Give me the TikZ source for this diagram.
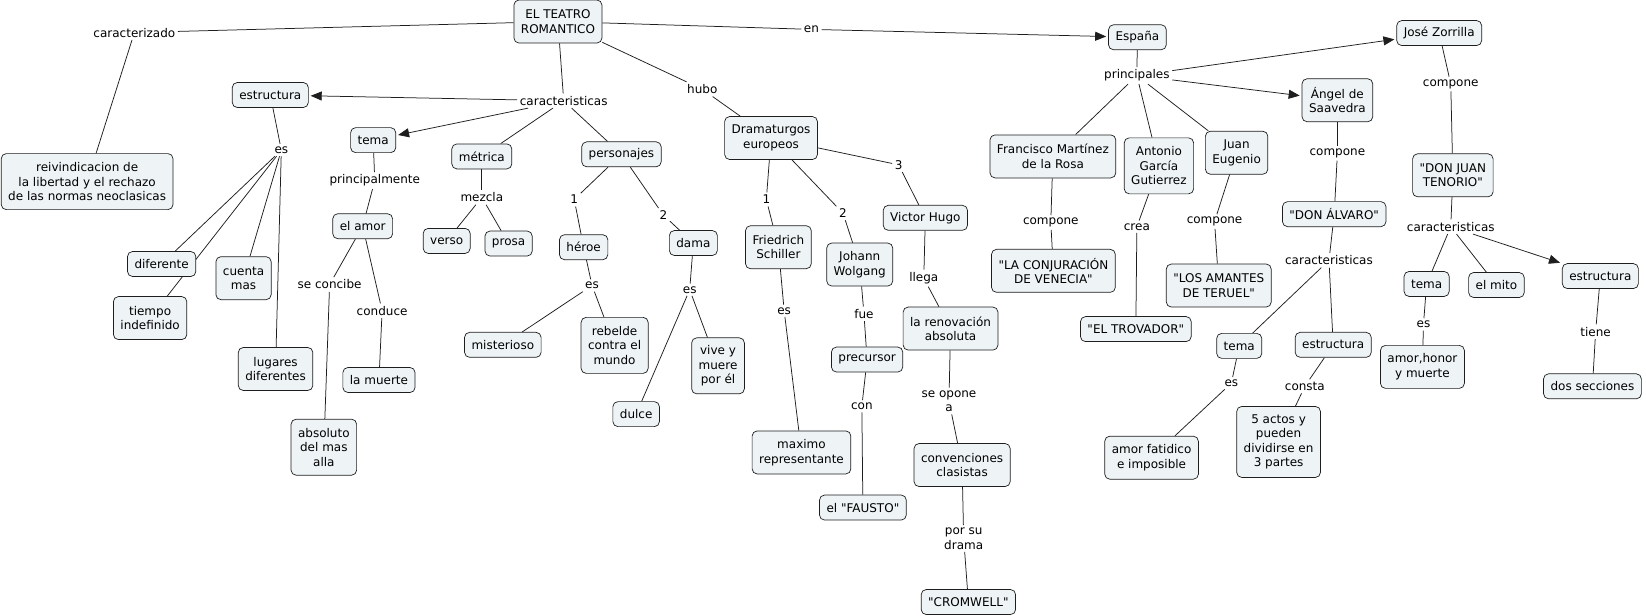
\documentclass[tikz,border=0pt]{standalone}
\usepackage{fontspec}
\newfontfamily\mapfont{DejaVu Sans}
\usetikzlibrary{arrows.meta,backgrounds}
\definecolor{cfill}{RGB}{238,243,245}
\definecolor{cline}{RGB}{30,30,30}
\begin{document}
\begin{tikzpicture}[x=1.0497pt,y=-1.0497pt,
  font=\mapfont\fontsize{12}{14.5}\selectfont,
  cbox/.style={draw=cline, fill=cfill, rounded corners=5pt, inner xsep=7pt, inner ysep=2pt, align=center, minimum height=25pt, line width=0.7pt},
  cboxb/.style={cbox, minimum height=43pt},
  cboxc/.style={cbox, minimum height=56pt},
  cboxd/.style={cbox, minimum height=71pt},
  lnk/.style={inner sep=2.5pt, align=center},
  conn/.style={draw=cline, line width=0.75pt},
  arr/.style={conn, shorten >=2pt, -{Triangle[length=11pt,width=9pt]}}]
\useasboundingbox (0,0) rectangle (1568,586.8);
% concepts
\node[cboxb] (teatro) at (531.5,20.5) {EL TEATRO\\ROMANTICO};
\node[cboxc] (reiv) at (83,173) {reivindicacion de\\la libertad y el rechazo\\de las normas neoclasicas};
\node[cbox] (estr1) at (257.5,90.5) {estructura};
\node[cbox] (tema1) at (355.5,133.5) {tema};
\node[cbox] (metrica) at (459,149) {métrica};
\node[cbox] (pers) at (592,147) {personajes};
\node[cbox] (dif) at (154,251.5) {diferente};
\node[cboxb] (tiempo) at (143,303) {tiempo\\indefinido};
\node[cboxb] (cuenta) at (232,265) {cuenta\\mas};
\node[cboxb] (lugares) at (262.5,351.5) {lugares\\diferentes};
\node[cbox] (amor) at (345.5,215.5) {el amor};
\node[cbox] (muerte) at (361,362) {la muerte};
\node[cboxc] (absol) at (308.5,426) {absoluto\\del mas\\alla};
\node[cbox] (verso) at (425.5,229.5) {verso};
\node[cbox] (prosa) at (484.5,232) {prosa};
\node[cbox] (heroe) at (556,235.5) {héroe};
\node[cbox] (dama) at (660.5,231.5) {dama};
\node[cbox] (mist) at (479,328.5) {misterioso};
\node[cboxc] (rebelde) at (585.5,329) {rebelde\\contra el\\mundo};
\node[cboxc] (vive) at (684,348.5) {vive y\\muere\\por él};
\node[cbox] (dulce) at (606,394.5) {dulce};
\node[cboxb] (drama) at (734.5,131.5) {Dramaturgos\\europeos};
\node[cboxb] (schiller) at (741.5,235.5) {Friedrich\\Schiller};
\node[cboxb] (johann) at (819,252) {Johann\\Wolgang};
\node[cbox] (victor) at (881.5,207.5) {Victor Hugo};
\node[cboxb] (maximo) at (763.5,431) {maximo\\representante};
\node[cbox] (precursor) at (826,342.5) {precursor};
\node[cbox] (fausto) at (822,483.5) {el "FAUSTO"};
\node[cboxb] (renov) at (905.5,313) {la renovación\\absoluta};
\node[cboxb] (conv) at (916.5,443) {convenciones\\clasistas};
\node[cbox] (cromwell) at (922.5,573.5) {"CROMWELL"};
\node[cbox] (espana) at (1083.5,35.5) {España};
\node[cboxb] (franc) at (1003,149) {Francisco Martínez\\de la Rosa};
\node[cboxc] (antonio) at (1104,158) {Antonio\\García\\Gutierrez};
\node[cboxb] (juan) at (1178,145.5) {Juan\\Eugenio};
\node[cboxb] (angel) at (1274,95.5) {Ángel de\\Saavedra};
\node[cbox] (jose) at (1371,31.5) {José Zorrilla};
\node[cboxb] (conj) at (1003.5,258) {"LA CONJURACIÓN\\DE VENECIA"};
\node[cbox] (trov) at (1082,313.5) {"EL TROVADOR"};
\node[cboxb] (amantes) at (1161,272) {"LOS AMANTES\\DE TERUEL"};
\node[cbox] (alvaro) at (1271,204) {"DON ÁLVARO"};
\node[cboxb] (donjuan) at (1384,167) {"DON JUAN\\TENORIO"};
\node[cbox] (tema2) at (1180.5,329.5) {tema};
\node[cbox] (estr2) at (1270,328.5) {estructura};
\node[cboxb] (amorfat) at (1097,436) {amor fatidico\\e imposible};
\node[cboxd] (cinco) at (1218,421) {5 actos y\\pueden\\dividirse en\\3 partes};
\node[cbox] (tema3) at (1359,270.5) {tema};
\node[cbox] (mito) at (1425.5,271.5) {el mito};
\node[cbox] (estr3) at (1524.5,263) {estructura};
\node[cboxb] (amorhonor) at (1355,349.5) {amor,honor\\y muerte};
\node[cbox] (dos) at (1517,368) {dos secciones};
% linking phrases
\node[lnk] (pcarz) at (128,31) {caracterizado};
\node[lnk] (pen) at (773,28) {en};
\node[lnk] (pcar1) at (537,96) {caracteristicas};
\node[lnk] (phubo) at (669,85) {hubo};
\node[lnk] (pes1) at (268,143) {es};
\node[lnk] (pprin) at (357,172) {principalmente};
\node[lnk] (pconc) at (314,271) {se concibe};
\node[lnk] (pcond) at (364,296) {conduce};
\node[lnk] (pmez) at (459,188) {mezcla};
\node[lnk] (pp1) at (547,190) {1};
\node[lnk] (pp2) at (632,205) {2};
\node[lnk] (pesh) at (564,272) {es};
\node[lnk] (pesd) at (657,276) {es};
\node[lnk] (pd1) at (730,190) {1};
\node[lnk] (pd2) at (803,203) {2};
\node[lnk] (pd3) at (856,157) {3};
\node[lnk] (pess) at (747,296) {es};
\node[lnk] (pfue) at (823,299) {fue};
\node[lnk] (pcon) at (821,387) {con};
\node[lnk] (pllega) at (880,265) {llega};
\node[lnk] (popone) at (904,382) {se opone\\a};
\node[lnk] (pporsu) at (918,513) {por su\\drama};
\node[lnk] (pprinc) at (1083,72) {principales};
\node[lnk] (pcomf) at (1001,212) {compone};
\node[lnk] (pcrea) at (1083,216) {crea};
\node[lnk] (pcomj) at (1157,211) {compone};
\node[lnk] (pcoma) at (1274,146) {compone};
\node[lnk] (pcaral) at (1266,248) {caracteristicas};
\node[lnk] (pest2) at (1173,365) {es};
\node[lnk] (pconsta) at (1243,368) {consta};
\node[lnk] (pcomz) at (1382,80) {compone};
\node[lnk] (pcardj) at (1382,216) {caracteristicas};
\node[lnk] (pest3) at (1356,309) {es};
\node[lnk] (ptiene) at (1520,316) {tiene};
% connectors
\begin{scope}[on background layer]
\fill[white] (0,0) rectangle (1568,586.8);
\draw[conn] (teatro) -- (pcarz);
\draw[conn] (pcarz) -- (reiv);
\draw[conn] (teatro) -- (pen);
\draw[arr] (pen) -- (espana);
\draw[conn] (teatro) -- (pcar1);
\draw[arr] (pcar1) -- (estr1);
\draw[arr] (pcar1) -- (tema1);
\draw[conn] (pcar1) -- (metrica);
\draw[conn] (pcar1) -- (pers);
\draw[conn] (teatro) -- (phubo);
\draw[conn] (phubo) -- (drama);
\draw[conn] (estr1) -- (pes1);
\draw[conn] (pes1) -- (dif);
\draw[conn] (pes1) -- (tiempo);
\draw[conn] (pes1) -- (cuenta);
\draw[conn] (pes1) -- (lugares);
\draw[conn] (tema1) -- (pprin);
\draw[conn] (pprin) -- (amor);
\draw[conn] (amor) -- (pconc);
\draw[conn] (pconc) -- (absol);
\draw[conn] (amor) -- (pcond);
\draw[conn] (pcond) -- (muerte);
\draw[conn] (metrica) -- (pmez);
\draw[conn] (pmez) -- (verso);
\draw[conn] (pmez) -- (prosa);
\draw[conn] (pers) -- (pp1);
\draw[conn] (pp1) -- (heroe);
\draw[conn] (pers) -- (pp2);
\draw[conn] (pp2) -- (dama);
\draw[conn] (heroe) -- (pesh);
\draw[conn] (pesh) -- (mist);
\draw[conn] (pesh) -- (rebelde);
\draw[conn] (dama) -- (pesd);
\draw[conn] (pesd) -- (dulce);
\draw[conn] (pesd) -- (vive);
\draw[conn] (drama) -- (pd1);
\draw[conn] (pd1) -- (schiller);
\draw[conn] (drama) -- (pd2);
\draw[conn] (pd2) -- (johann);
\draw[conn] (drama) -- (pd3);
\draw[conn] (pd3) -- (victor);
\draw[conn] (schiller) -- (pess);
\draw[conn] (pess) -- (maximo);
\draw[conn] (johann) -- (pfue);
\draw[conn] (pfue) -- (precursor);
\draw[conn] (precursor) -- (pcon);
\draw[conn] (pcon) -- (fausto);
\draw[conn] (victor) -- (pllega);
\draw[conn] (pllega) -- (renov);
\draw[conn] (renov) -- (popone);
\draw[conn] (popone) -- (conv);
\draw[conn] (conv) -- (pporsu);
\draw[conn] (pporsu) -- (cromwell);
\draw[conn] (espana) -- (pprinc);
\draw[conn] (pprinc) -- (franc);
\draw[conn] (pprinc) -- (antonio);
\draw[conn] (pprinc) -- (juan);
\draw[arr] (pprinc) -- (angel);
\draw[arr] (pprinc) -- (jose);
\draw[conn] (franc) -- (pcomf);
\draw[conn] (pcomf) -- (conj);
\draw[conn] (antonio) -- (pcrea);
\draw[conn] (pcrea) -- (trov);
\draw[conn] (juan) -- (pcomj);
\draw[conn] (pcomj) -- (amantes);
\draw[conn] (angel) -- (pcoma);
\draw[conn] (pcoma) -- (alvaro);
\draw[conn] (alvaro) -- (pcaral);
\draw[conn] (pcaral) -- (tema2);
\draw[conn] (pcaral) -- (estr2);
\draw[conn] (tema2) -- (pest2);
\draw[conn] (pest2) -- (amorfat);
\draw[conn] (estr2) -- (pconsta);
\draw[conn] (pconsta) -- (cinco);
\draw[conn] (jose) -- (pcomz);
\draw[conn] (pcomz) -- (donjuan);
\draw[conn] (donjuan) -- (pcardj);
\draw[conn] (pcardj) -- (tema3);
\draw[conn] (pcardj) -- (mito);
\draw[arr] (pcardj) -- (estr3);
\draw[conn] (tema3) -- (pest3);
\draw[conn] (pest3) -- (amorhonor);
\draw[conn] (estr3) -- (ptiene);
\draw[conn] (ptiene) -- (dos);
\end{scope}
\end{tikzpicture}
\end{document}
